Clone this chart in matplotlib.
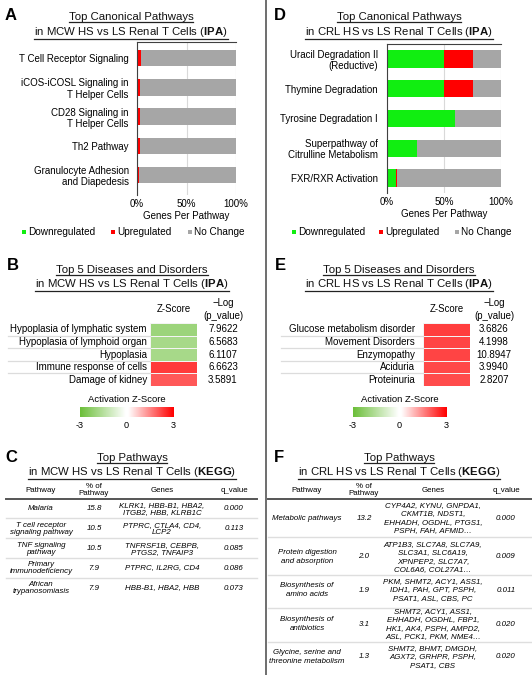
import numpy as np
import matplotlib
matplotlib.use("Agg")
import matplotlib.pyplot as plt
from matplotlib.colors import LinearSegmentedColormap
from matplotlib.lines import Line2D
from matplotlib.patches import Rectangle

plt.rcParams['font.family'] = ['Liberation Sans', 'DejaVu Sans']
plt.rcParams['mathtext.fontset'] = 'custom'
plt.rcParams['mathtext.rm'] = 'Liberation Sans'
plt.rcParams['mathtext.bf'] = 'Liberation Sans:bold'

# ---- data ----
mcw_paths = ["T Cell Receptor Signaling", "iCOS-iCOSL Signaling in\nT Helper Cells",
             "CD28 Signaling in\nT Helper Cells", "Th2 Pathway",
             "Granulocyte Adhesion\nand Diapedesis"]
mcw_down = [0, 0, 0, 0, 0]
mcw_up = [3.8, 3.2, 3.0, 2.7, 2.0]

crl_paths = ["Uracil Degradation II\n(Reductive)", "Thymine Degradation",
             "Tyrosine Degradation I", "Superpathway of\nCitrulline Metabolism",
             "FXR/RXR Activation"]
crl_down = [50, 50, 60, 26.5, 7.5]
crl_up = [25, 25, 0, 0, 1.0]

mcw_dis = ["Hypoplasia of lymphatic system", "Hypoplasia of lymphoid organ",
           "Hypoplasia", "Immune response of cells", "Damage of kidney"]
mcw_z = [-2.0, -1.8, -1.8, 2.3, 1.95]
mcw_logp = [7.9622, 6.5683, 6.1107, 6.6623, 3.5891]

crl_dis = ["Glucose metabolism disorder", "Movement Disorders", "Enzymopathy",
           "Aciduria", "Proteinuria"]
crl_z = [2.25, 2.2, 2.2, 2.15, 2.1]
crl_logp = [3.6826, 4.1998, 10.8947, 3.9940, 2.8207]

mcw_kegg = ["Malaria", "T cell receptor\nsignaling pathway", "TNF signaling\npathway",
            "Primary\nimmunodeficiency", "African\ntrypanosomiasis"]
mcw_pct = [15.8, 10.5, 10.5, 7.9, 7.9]
mcw_genes = ["KLRK1, HBB-B1, HBA2,\nITGB2, HBB, KLRB1C", "PTPRC, CTLA4, CD4,\nLCP2",
             "TNFRSF1B, CEBPB,\nPTGS2, TNFAIP3", "PTPRC, IL2RG, CD4", "HBB-B1, HBA2, HBB"]
mcw_q = [0.000, 0.113, 0.085, 0.086, 0.073]

crl_kegg = ["Metabolic pathways", "Protein digestion\nand absorption",
            "Biosynthesis of\namino acids", "Biosynthesis of\nantibiotics",
            "Glycine, serine and\nthreonine metabolism"]
crl_pct = [13.2, 2.0, 1.9, 3.1, 1.3]
crl_genes = ["CYP4A2, KYNU, GNPDA1,\nCKMT1B, NDST1,\nEHHADH, OGDHL, PTGS1,\nPSPH, FAH, AFMID\u2026",
             "ATP1B3, SLC7A8, SLC7A9,\nSLC3A1, SLC6A19,\nXPNPEP2, SLC7A7,\nCOL6A6, COL27A1\u2026",
             "PKM, SHMT2, ACY1, ASS1,\nIDH1, PAH, GPT, PSPH,\nPSAT1, ASL, CBS, PC",
             "SHMT2, ACY1, ASS1,\nEHHADH, OGDHL, FBP1,\nHK1, AK4, PSPH, AMPD2,\nASL, PCK1, PKM, NME4\u2026",
             "SHMT2, BHMT, DMGDH,\nAGXT2, GRHPR, PSPH,\nPSAT1, CBS"]
crl_q = [0.000, 0.009, 0.011, 0.020, 0.020]

GREEN = '#11ee11'
RED = '#ff0000'
GREY = '#a6a6a6'

W, H = 532, 675
fig = plt.figure(figsize=(W / 100, H / 100), dpi=100)


def fx(x):
    return x / W


def fy(y):
    return 1 - y / H


def txt(x, y, s, **kw):
    kw.setdefault('ha', 'center')
    kw.setdefault('va', 'center')
    return fig.text(fx(x), fy(y), s, **kw)


def hline(x0, x1, y, color, lw):
    fig.add_artist(Line2D([fx(x0), fx(x1)], [fy(y), fy(y)], color=color, lw=lw))


def axes_px(x0, y0, x1, y1):
    return fig.add_axes([fx(x0), fy(y1), (x1 - x0) / W, (y1 - y0) / H])


titles = []


def title(cx, y1, y2, l1, l2):
    titles.append(txt(cx, y1, l1, fontsize=8.2, color='#111111'))
    titles.append(txt(cx, y2, l2, fontsize=8.2, color='#111111'))


# divider
fig.add_artist(Line2D([fx(266), fx(266)], [0, 1], color='#555555', lw=1.2))

# ---- bar panels A and D ----
def bar_panel(box, ylim, cats, down, up, pad, height):
    ax = axes_px(*box)
    y = np.arange(len(cats))
    down = np.array(down)
    up = np.array(up)
    rest = 100 - down - up
    ax.barh(y, down, height=height, color=GREEN)
    ax.barh(y, up, left=down, height=height, color=RED)
    ax.barh(y, rest, left=down + up, height=height, color=GREY)
    ax.set_xlim(0, 100)
    ax.set_ylim(*ylim)
    ax.set_yticks(y)
    ax.set_yticklabels(cats, fontsize=7, linespacing=1.15)
    ax.set_xticks([0, 50, 100])
    ax.set_xticklabels(['0%', '50%', '100%'], fontsize=7)
    ax.tick_params(length=0, pad=pad)
    ax.tick_params(axis='x', pad=3)
    ax.xaxis.grid(True, color='#d9d9d9', lw=0.8)
    ax.set_axisbelow(True)
    for s in ['right', 'bottom']:
        ax.spines[s].set_visible(False)
    for s in ['top', 'left']:
        ax.spines[s].set_color('#404040')
        ax.spines[s].set_linewidth(0.8)
    ax.set_xlabel('Genes Per Pathway', fontsize=7, labelpad=1)
    return ax


bar_panel((137, 42, 236, 195), (4.68, -0.55), mcw_paths, mcw_down, mcw_up, 6, 0.57)
bar_panel((387, 44, 501, 193), (4.5, -0.5), crl_paths, crl_down, crl_up, 6.5, 0.58)

txt(5, 15, 'A', fontsize=12, fontweight='bold', ha='left')
txt(274, 16, 'D', fontsize=12, fontweight='bold', ha='left')
title(131, 17, 32, 'Top Canonical Pathways', r'in MCW HS vs LS Renal T Cells ($\mathbf{IPA}$)')
title(399, 17, 32, 'Top Canonical Pathways', r'in CRL HS vs LS Renal T Cells ($\mathbf{IPA}$)')


def legend(xs, y):
    for x, c, lab in zip(xs, [GREEN, RED, GREY], ['Downregulated', 'Upregulated', 'No Change']):
        fig.add_artist(Rectangle((fx(x), fy(y + 2)), 4 / W, 4 / H, transform=fig.transFigure,
                                 color=c, lw=0))
        txt(x + 6, y, lab, fontsize=7.2, ha='left')


legend([22, 111, 188], 232)
legend([292, 379, 455], 232)

# ---- heatmap panels B and E ----
zcmap = LinearSegmentedColormap.from_list('z', [(0, '#6cbf3a'), (0.5, '#ffffff'), (1, '#ff0000')])
left_cmap = LinearSegmentedColormap.from_list('zl', ['#6cbf3a', '#ffffff'])
right_cmap = LinearSegmentedColormap.from_list('zr', ['#ffffff', '#ff0000'])


def heat_panel(ox, lab_x, hx0, hx1, val_x, line_x0, cats, z, logp):
    top, bot = 323, 386
    ax = axes_px(ox + hx0, top, ox + hx1, bot)
    ax.pcolormesh(np.array(z).reshape(-1, 1), cmap=zcmap, vmin=-3, vmax=3,
                  edgecolor='#f4f4f4', lw=0.4)
    ax.set_ylim(len(z), 0)
    ax.axis('off')
    rh = (bot - top) / len(cats)
    for i, (c, v) in enumerate(zip(cats, logp)):
        yc = top + rh * (i + 0.5)
        txt(ox + lab_x, yc, c, fontsize=7, ha='right')
        txt(ox + val_x, yc, f'{v:.4f}', fontsize=7)
        if i < len(cats) - 1:
            hline(ox + line_x0, ox + hx0, top + rh * (i + 1), '#dcdcdc', 0.9)
    txt(ox + (hx0 + hx1) / 2, 309, 'Z-Score', fontsize=6.9)
    txt(ox + val_x, 303, '\u2212Log', fontsize=6.9)
    txt(ox + val_x, 316, '(p_value)', fontsize=6.9)


def zbar(x0, x1, lx):
    txt(lx, 399, 'Activation Z-Score', fontsize=6.8)
    mid = (x0 + x1) / 2
    grad = np.linspace(0, 1, 64).reshape(1, -1)
    a1 = axes_px(x0, 407, mid - 1, 417)
    a1.imshow(grad, cmap=left_cmap, aspect='auto')
    a1.axis('off')
    a2 = axes_px(mid + 1, 407, x1, 417)
    a2.imshow(grad, cmap=right_cmap, aspect='auto')
    a2.axis('off')
    for x, t in zip([x0, mid, x1], ['-3', '0', '3']):
        txt(x, 425, t, fontsize=6.6)


heat_panel(0, 147, 150, 197, 223, 8, mcw_dis, mcw_z, mcw_logp)
heat_panel(266, 149, 157, 204, 228, 15, crl_dis, crl_z, crl_logp)
zbar(80, 173, 127)
zbar(353, 446, 400)

txt(7, 266, 'B', fontsize=12, fontweight='bold', ha='left')
txt(275, 266, 'E', fontsize=12, fontweight='bold', ha='left')
title(132, 270, 284, 'Top 5 Diseases and Disorders', r'in MCW HS vs LS Renal T Cells ($\mathbf{IPA}$)')
title(399, 270, 284, 'Top 5 Diseases and Disorders', r'in CRL HS vs LS Renal T Cells ($\mathbf{IPA}$)')

# ---- KEGG tables C and F ----
def kegg_table(ox, x0, x1, cols, names, pct, genes, q, row_y, sep_y, ls):
    fs = 5.7
    txt(ox + cols[0], 490, 'Pathway', fontsize=fs)
    txt(ox + cols[1], 490, '% of\nPathway', fontsize=fs, linespacing=1.05)
    txt(ox + cols[2], 490, 'Genes', fontsize=fs)
    txt(ox + cols[3], 490, 'q_value', fontsize=fs)
    hline(ox + x0, ox + x1, 499, '#555555', 1.4)
    for n, p, g, qv, y in zip(names, pct, genes, q, row_y):
        txt(ox + cols[0], y, n, fontsize=fs, style='italic', linespacing=ls)
        txt(ox + cols[1], y, f'{p:.1f}', fontsize=fs, style='italic')
        txt(ox + cols[2], y, g, fontsize=fs, style='italic', linespacing=ls)
        txt(ox + cols[3], y, f'{qv:.3f}', fontsize=fs, style='italic')
    for y in sep_y:
        hline(ox + x0, ox + x1, y, '#dedede', 1.0)


kegg_table(0, 6, 257, [41, 94, 162, 234], mcw_kegg, mcw_pct, mcw_genes, mcw_q,
           [509, 529, 549, 568, 588], [518, 538, 558, 578], 1.15)
kegg_table(266, 2, 266, [41, 98, 167, 240], crl_kegg, crl_pct, crl_genes, crl_q,
           [518, 557, 590, 624, 657], [537, 575, 608, 642], 1.25)

txt(5, 457, 'C', fontsize=12, fontweight='bold', ha='left')
txt(274, 457, 'F', fontsize=12, fontweight='bold', ha='left')
title(132, 458, 472, 'Top Pathways', r'in MCW HS vs LS Renal T Cells ($\mathbf{KEGG}$)')
title(399, 458, 472, 'Top Pathways', r'in CRL HS vs LS Renal T Cells ($\mathbf{KEGG}$)')

# underline titles
fig.canvas.draw()
r = fig.canvas.get_renderer()
for t in titles:
    bb = t.get_window_extent(r).transformed(fig.transFigure.inverted())
    fig.add_artist(Line2D([bb.x0, bb.x1], [bb.y0 + 0.5 / H, bb.y0 + 0.5 / H],
                          color='#222222', lw=0.9))

fig.savefig('out.png', dpi=100)
